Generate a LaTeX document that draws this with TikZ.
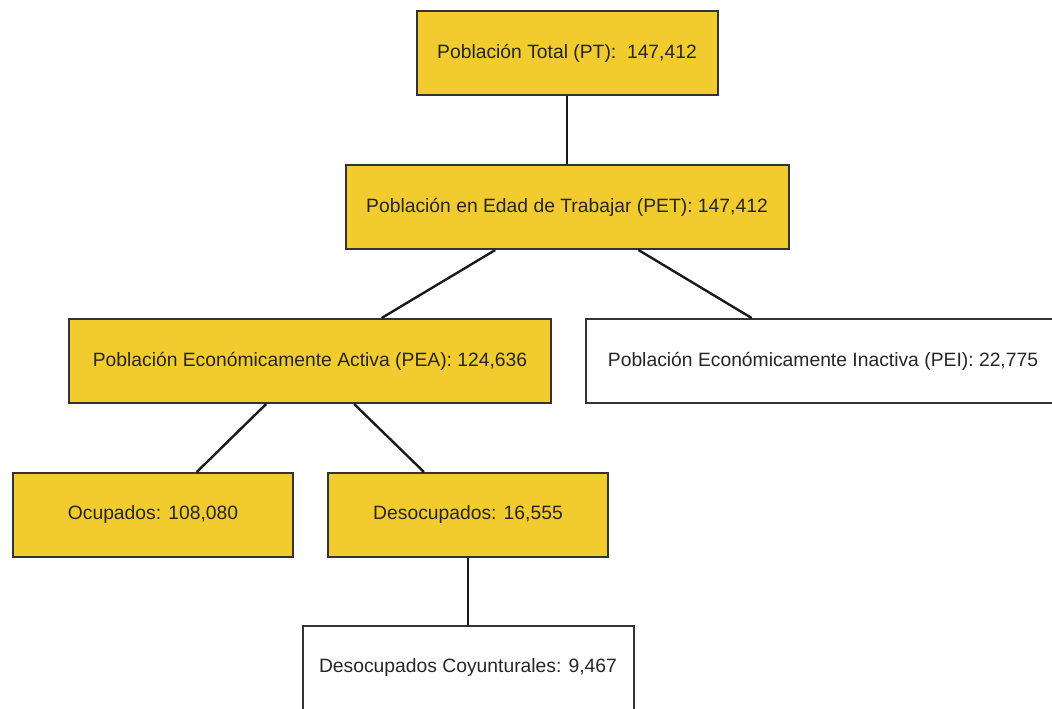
\documentclass[tikz,border=0pt]{standalone}
\usepackage{fontspec}
\setmainfont{Liberation Sans}
\definecolor{boxyellow}{HTML}{F2CC2F}
\definecolor{boxline}{HTML}{333333}

\begin{document}
\begin{tikzpicture}[
		x=1pt,y=-1pt,
		box/.style={draw=boxline,line width=2pt,minimum height=84pt,inner sep=0pt,
			font=\fontsize{19.3}{22}\selectfont,text=black!85},
		yellowbox/.style={box,fill=boxyellow},
		whitebox/.style={box,fill=white},
		link/.style={line width=2.4pt,black!90}
		]
		% ===== Page =====
		\useasboundingbox (0,0) rectangle (1052,709);
		\clip (0,0) rectangle (1052,709);
		% ===== Boxes =====
		\node[yellowbox,minimum width=301pt] (pt) at (567,53) {Población Total (PT):\ \ 147,412};
		\node[yellowbox,minimum width=443pt] (pet) at (567,207) {Población en Edad de Trabajar (PET): 147,412};
		\node[yellowbox,minimum width=482pt] (pea) at (310,361) {Población Económicamente Activa (PEA): 124,636};
		\node[whitebox,minimum width=474pt] (pei) at (823,361) {Población Económicamente Inactiva (PEI): 22,775};
		\node[yellowbox,minimum width=280pt] (ocu) at (153,515) {Ocupados: 108,080};
		\node[yellowbox,minimum width=280pt] (des) at (468,515) {Desocupados: 16,555};
		\node[whitebox,minimum width=331pt] (coy) at (468,668) {Desocupados Coyunturales: 9,467};
		% ===== Links =====
		\draw[link] (pt) -- (pet);
		\draw[link] (pet) -- (pea);
		\draw[link] (pet) -- (pei);
		\draw[link] (pea) -- (ocu);
		\draw[link] (pea) -- (des);
		\draw[link] (des) -- (coy);
	\end{tikzpicture}
\end{document}
